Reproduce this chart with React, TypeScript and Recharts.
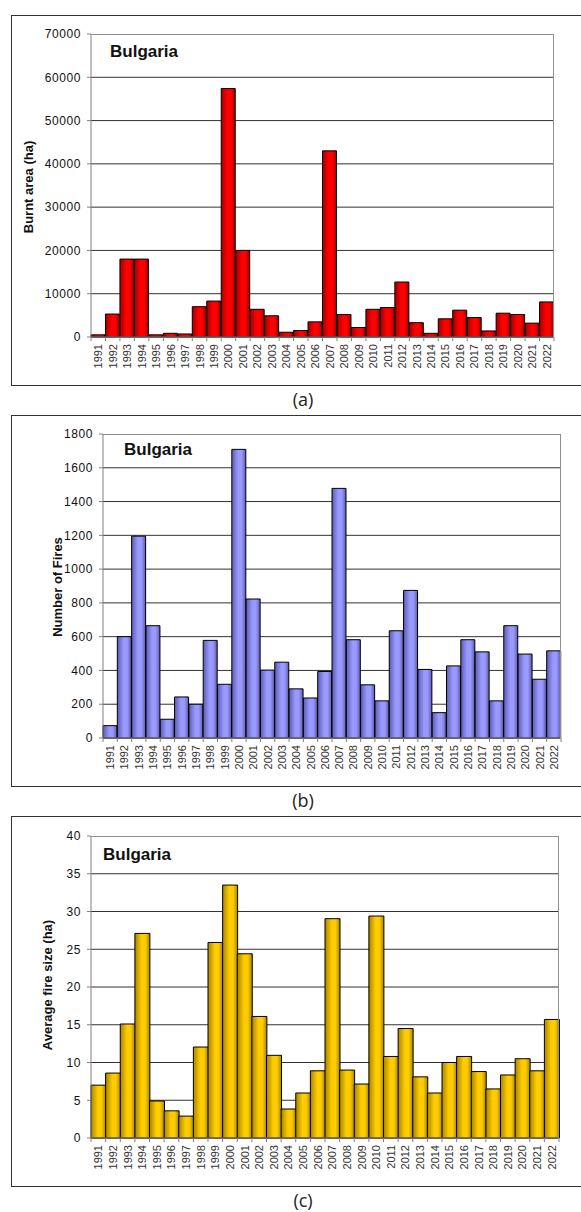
import { Bar, BarChart, CartesianGrid, XAxis, YAxis } from 'recharts';

const YEARS = [
  '1991', '1992', '1993', '1994', '1995', '1996', '1997', '1998', '1999', '2000', '2001',
  '2002', '2003', '2004', '2005', '2006', '2007', '2008', '2009', '2010', '2011', '2012',
  '2013', '2014', '2015', '2016', '2017', '2018', '2019', '2020', '2021', '2022',
];

const BURNT_AREA = [
  500, 5300, 18000, 18000, 500, 850, 700, 7000, 8300, 57400, 20000, 6400, 4900, 1100, 1500, 3500,
  43000, 5200, 2200, 6400, 6800, 12700, 3300, 850, 4200, 6200, 4500, 1400, 5500, 5200, 3200, 8100,
];

const FIRE_COUNT = [
  73, 600, 1195, 665, 111, 243, 200, 578, 318, 1709, 823, 402, 449, 291, 237, 394,
  1478, 582, 315, 220, 635, 874, 406, 150, 427, 582, 510, 220, 665, 497, 348, 516,
];

const AVG_SIZE = [
  7.0, 8.6, 15.1, 27.1, 4.9, 3.6, 2.9, 12.05, 25.9, 33.5, 24.4, 16.1, 10.95, 3.84, 5.96, 8.9,
  29.05, 9.0, 7.15, 29.4, 10.8, 14.5, 8.1, 5.96, 10.0, 10.8, 8.8, 6.5, 8.35, 10.5, 8.9, 15.7,
];

const AREA_TICKS = [0, 10000, 20000, 30000, 40000, 50000, 60000, 70000];
const COUNT_TICKS = [0, 200, 400, 600, 800, 1000, 1200, 1400, 1600, 1800];
const SIZE_TICKS = [0, 5, 10, 15, 20, 25, 30, 35, 40];

const FONT = '"Liberation Sans", Arial, sans-serif';
const PAGE_W = 581;

type PanelProps = {
  id: string;
  values: number[];
  ticks: number[];
  top: number;
  bottom: number;
  plotLeft: number;
  plotRight: number;
  plotTop: number;
  plotBottom: number;
  colors: [string, string];
  yLabel: string;
  yLabelX: number;
  yLabelY: number;
  titleX: number;
  titleY: number;
  caption: string;
};

function Panel(p: PanelProps) {
  const data = YEARS.map((year, i) => ({ year, value: p.values[i] }));
  const max = p.ticks[p.ticks.length - 1];
  const bw = (p.plotRight - p.plotLeft) / YEARS.length;
  const gridVals = p.ticks.slice(0, -1);

  const YearTick = (props: any) => {
    const { x, y, payload, index } = props;
    return (
      <g>
        <line x1={x - bw / 2} x2={x - bw / 2} y1={y} y2={y + 4} stroke="#808080" />
        {index === YEARS.length - 1 && (
          <line x1={x + bw / 2} x2={x + bw / 2} y1={y} y2={y + 4} stroke="#808080" />
        )}
        <text
          transform={`translate(${x + 4},${y + 7}) rotate(-90)`}
          textAnchor="end"
          fontSize={11}
          fontFamily={FONT}
          fill="#333"
        >
          {payload.value}
        </text>
      </g>
    );
  };

  return (
    <>
      {/* frame */}
      <div style={{ position: 'absolute', left: 11, top: p.top, width: PAGE_W - 11, height: 1, background: '#333' }} />
      <div style={{ position: 'absolute', left: 11, top: p.bottom, width: PAGE_W - 11, height: 1, background: '#333' }} />
      <div style={{ position: 'absolute', left: 11, top: p.top, width: 1, height: p.bottom - p.top, background: '#333' }} />

      <div style={{ position: 'absolute', left: 0, top: p.top }}>
        <BarChart
          width={PAGE_W}
          height={p.bottom - p.top}
          data={data}
          margin={{ top: p.plotTop - p.top, right: PAGE_W - p.plotRight, bottom: 0, left: 0 }}
          barCategoryGap={0}
          barGap={0}
        >
          <defs>
            <linearGradient id={`grad-${p.id}`} x1="0" y1="0" x2="1" y2="0">
              <stop offset="0%" stopColor={p.colors[1]} />
              <stop offset="45%" stopColor={p.colors[0]} />
              <stop offset="70%" stopColor={p.colors[0]} />
              <stop offset="100%" stopColor={p.colors[1]} />
            </linearGradient>
          </defs>
          <CartesianGrid vertical={false} stroke="#333" horizontalValues={gridVals} />
          <XAxis
            dataKey="year"
            height={p.bottom - p.plotBottom}
            interval={0}
            tickSize={0}
            tickMargin={0}
            tickLine={false}
            axisLine={{ stroke: '#808080' }}
            tick={<YearTick />}
          />
          <YAxis
            width={p.plotLeft}
            domain={[0, max]}
            ticks={p.ticks}
            interval={0}
            tickSize={4}
            tickMargin={6}
            axisLine={{ stroke: '#808080' }}
            tickLine={{ stroke: '#808080' }}
            tick={{ fontSize: 12, fontFamily: FONT, fill: '#111', letterSpacing: 0.6 }}
          />
          <Bar dataKey="value" fill={`url(#grad-${p.id})`} stroke="#000" strokeWidth={1} isAnimationActive={false} />
        </BarChart>
      </div>

      {/* plot-area border (top + right) */}
      <div
        style={{
          position: 'absolute',
          left: p.plotLeft,
          top: p.plotTop,
          width: p.plotRight - p.plotLeft - 1,
          height: p.plotBottom - p.plotTop,
          borderTop: '1px solid #909090',
          borderRight: '1px solid #909090',
          pointerEvents: 'none',
        }}
      />

      <div
        style={{
          position: 'absolute',
          left: p.titleX,
          top: p.titleY - 10,
          lineHeight: '20px',
          fontFamily: FONT,
          fontWeight: 'bold',
          fontSize: 17,
          color: '#111',
        }}
      >
        Bulgaria
      </div>

      <div
        style={{
          position: 'absolute',
          left: p.yLabelX,
          top: p.yLabelY,
          transform: 'translate(-50%, -50%) rotate(-90deg)',
          whiteSpace: 'nowrap',
          fontFamily: FONT,
          fontWeight: 'bold',
          fontSize: 13,
          color: '#111',
        }}
      >
        {p.yLabel}
      </div>

      <div
        style={{
          position: 'absolute',
          left: 303,
          top: p.bottom + 3,
          transform: 'translateX(-50%)',
          fontFamily: '"Open Sans", "Noto Sans", sans-serif',
          fontSize: 18,
          lineHeight: '22px',
          color: '#222',
        }}
      >
        {p.caption}
      </div>
    </>
  );
}

export default function App() {
  return (
    <div style={{ position: 'absolute', left: 0, top: 0, width: PAGE_W, height: 1212, overflow: 'hidden', background: '#fff' }}>
      <Panel
        id="a"
        values={BURNT_AREA}
        ticks={AREA_TICKS}
        top={15}
        bottom={385}
        plotLeft={91}
        plotRight={554}
        plotTop={34}
        plotBottom={337}
        colors={['#ff0000', '#a00000']}
        yLabel="Burnt area (ha)"
        yLabelX={28}
        yLabelY={187}
        titleX={110}
        titleY={52}
        caption="(a)"
      />
      <div style={{ position: 'absolute', left: 11, top: 415, width: PAGE_W - 11, height: 1, background: '#333' }} />
      <Panel
        id="b"
        values={FIRE_COUNT}
        ticks={COUNT_TICKS}
        top={415}
        bottom={786}
        plotLeft={103}
        plotRight={561}
        plotTop={434}
        plotBottom={738}
        colors={['#9999ff', '#5c5cb0']}
        yLabel="Number of Fires"
        yLabelX={57}
        yLabelY={587}
        titleX={124}
        titleY={450}
        caption="(b)"
      />
      <Panel
        id="c"
        values={AVG_SIZE}
        ticks={SIZE_TICKS}
        top={816}
        bottom={1186}
        plotLeft={91}
        plotRight={559}
        plotTop={836}
        plotBottom={1138}
        colors={['#ffcc00', '#a88400']}
        yLabel="Average fire size (ha)"
        yLabelX={47}
        yLabelY={985}
        titleX={103}
        titleY={855}
        caption="(c)"
      />
    </div>
  );
}
